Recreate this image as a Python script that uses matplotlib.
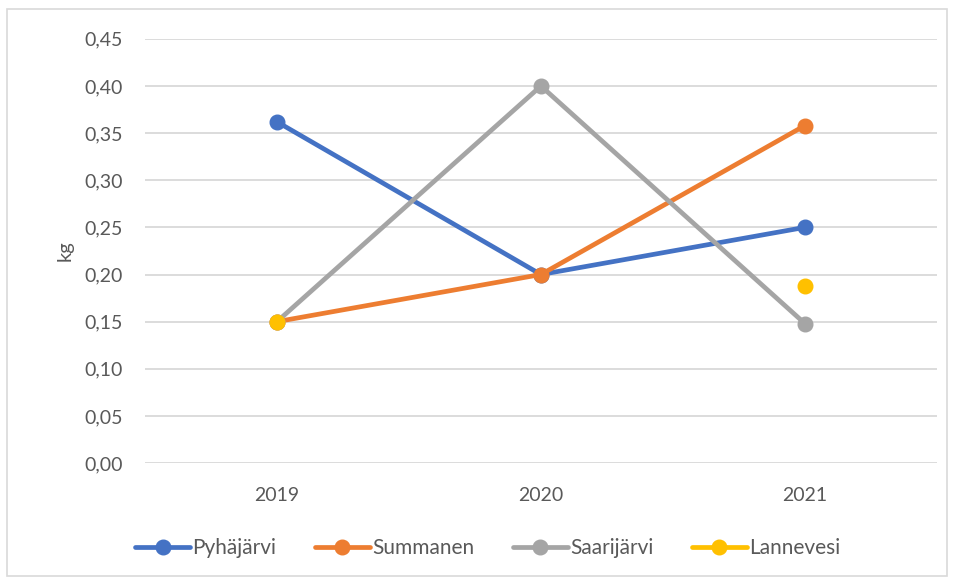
import matplotlib
matplotlib.use("Agg")
import matplotlib.pyplot as plt
from matplotlib.patches import Rectangle
import numpy as np

years = ["2019", "2020", "2021"]
pyhajarvi = [0.362, 0.200, 0.250]
summanen = [0.150, 0.200, 0.358]
saarijarvi = [0.150, 0.400, 0.148]
lannevesi = [0.150, np.nan, 0.188]
yticks = [0.00, 0.05, 0.10, 0.15, 0.20, 0.25, 0.30, 0.35, 0.40, 0.45]

series = [
    ("Pyhäjärvi", pyhajarvi, "#4472C4"),
    ("Summanen", summanen, "#ED7D31"),
    ("Saarijärvi", saarijarvi, "#A5A5A5"),
    ("Lannevesi", lannevesi, "#FFC000"),
]

plt.rcParams['font.family'] = ['Lato', 'DejaVu Sans']
fig = plt.figure(figsize=(9.54, 5.8), dpi=100)
fig.patches.append(Rectangle((0.007, 0.007), 0.986, 0.978, transform=fig.transFigure,
                             fill=False, edgecolor="#D9D9D9", linewidth=1.2))
ax = fig.add_axes([0.152, 0.2017, 0.830, 0.7313])
x = np.arange(len(years))
for name, vals, col in series:
    ax.plot(x, vals, color=col, linewidth=3.4, marker='o', markersize=10.5,
            label=name, solid_capstyle='round', zorder=3)

ax.set_xlim(-0.5, 2.5)
ax.set_ylim(0, 0.45)
ax.set_yticks(yticks)
ax.set_yticklabels([f"{v:.2f}".replace(".", ",") for v in yticks])
ax.set_xticks(x)
ax.set_xticklabels(years)
ax.grid(axis='y', color="#D9D9D9", linewidth=1.3)
ax.set_axisbelow(True)
for s in ax.spines.values():
    s.set_visible(False)
ax.tick_params(axis='both', length=0, colors="#595959", labelsize=14)
ax.tick_params(axis='y', pad=16)
ax.tick_params(axis='x', pad=17)
ax.set_ylabel("kg", color="#595959", fontsize=14.5, labelpad=8)

leg = fig.legend(loc='center', bbox_to_anchor=(0.511, 0.055), ncol=4, frameon=False,
                 fontsize=15, handlelength=2.65, columnspacing=1.85, handletextpad=0.1)
for t in leg.get_texts():
    t.set_color("#595959")

fig.savefig("out.png", dpi=100)
